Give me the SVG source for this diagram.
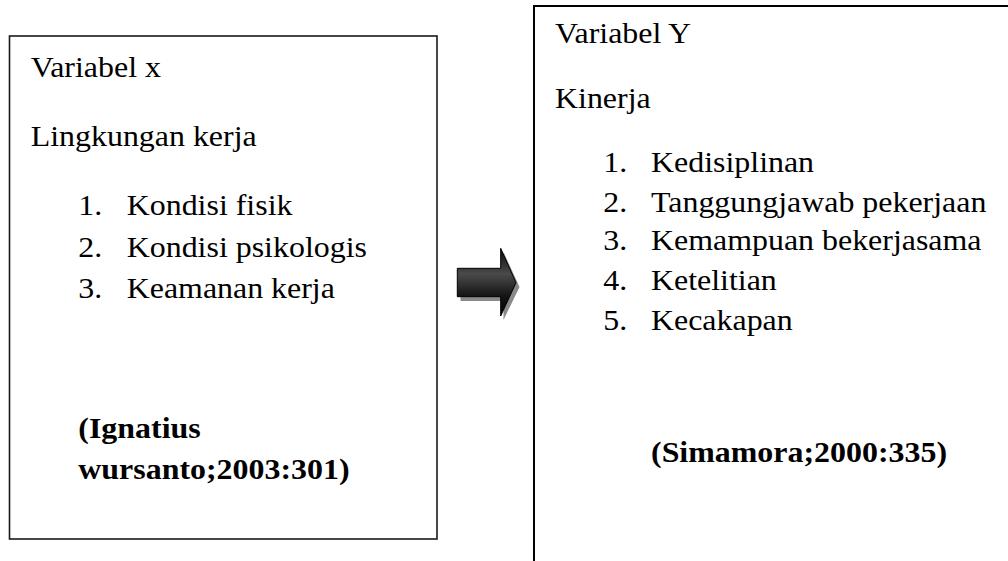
<svg xmlns="http://www.w3.org/2000/svg" width="1008" height="561" viewBox="0 0 1008 561">
  <defs>
    <linearGradient id="arrowGrad" x1="0" y1="0" x2="0" y2="1">
      <stop offset="0" stop-color="#0a0a0a"/>
      <stop offset="0.38" stop-color="#4a4a4a"/>
      <stop offset="0.7" stop-color="#151515"/>
      <stop offset="1" stop-color="#000"/>
    </linearGradient>
  </defs>
  <rect width="1008" height="561" fill="#ffffff"/>

  <g id="node-x">
    <rect x="9.5" y="36" width="427.5" height="503" fill="#fff" stroke="#1a1a1a" stroke-width="1.6"/>
    <text font-family="Liberation Serif, Times New Roman, serif" font-size="28.5" transform="translate(30.7,76.7) scale(1.12,1)">Variabel x</text>
    <text font-family="Liberation Serif, Times New Roman, serif" font-size="28.5" transform="translate(30.7,146) scale(1.12,1)">Lingkungan kerja</text>
    <text font-family="Liberation Serif, Times New Roman, serif" font-size="28.5" transform="translate(78.3,215) scale(1.12,1)">1.</text>
    <text font-family="Liberation Serif, Times New Roman, serif" font-size="28.5" transform="translate(126.7,215) scale(1.12,1)">Kondisi fisik</text>
    <text font-family="Liberation Serif, Times New Roman, serif" font-size="28.5" transform="translate(78.3,256.7) scale(1.12,1)">2.</text>
    <text font-family="Liberation Serif, Times New Roman, serif" font-size="28.5" transform="translate(126.7,256.7) scale(1.12,1)">Kondisi psikologis</text>
    <text font-family="Liberation Serif, Times New Roman, serif" font-size="28.5" transform="translate(78.3,298.3) scale(1.12,1)">3.</text>
    <text font-family="Liberation Serif, Times New Roman, serif" font-size="28.5" transform="translate(126.7,298.3) scale(1.12,1)">Keamanan kerja</text>
    <text font-family="Liberation Serif, Times New Roman, serif" font-size="28.5" font-weight="bold" transform="translate(78.3,438.3) scale(1.12,1)">(Ignatius</text>
    <text font-family="Liberation Serif, Times New Roman, serif" font-size="28.5" font-weight="bold" transform="translate(78.3,479.3) scale(1.12,1)">wursanto;2003:301)</text>
  </g>

  <g id="node-y">
    <rect x="534" y="6" width="520" height="600" fill="#fff" stroke="#000" stroke-width="2"/>
    <text font-family="Liberation Serif, Times New Roman, serif" font-size="28.5" transform="translate(555,43.3) scale(1.12,1)">Variabel Y</text>
    <text font-family="Liberation Serif, Times New Roman, serif" font-size="28.5" transform="translate(555,108.3) scale(1.12,1)">Kinerja</text>
    <text font-family="Liberation Serif, Times New Roman, serif" font-size="28.5" transform="translate(603.3,171.7) scale(1.12,1)">1.</text>
    <text font-family="Liberation Serif, Times New Roman, serif" font-size="28.5" transform="translate(651,171.7) scale(1.12,1)">Kedisiplinan</text>
    <text font-family="Liberation Serif, Times New Roman, serif" font-size="28.5" transform="translate(603.3,211.7) scale(1.12,1)">2.</text>
    <text font-family="Liberation Serif, Times New Roman, serif" font-size="28.5" transform="translate(651,211.7) scale(1.12,1)">Tanggungjawab pekerjaan</text>
    <text font-family="Liberation Serif, Times New Roman, serif" font-size="28.5" transform="translate(603.3,250) scale(1.12,1)">3.</text>
    <text font-family="Liberation Serif, Times New Roman, serif" font-size="28.5" transform="translate(651,250) scale(1.12,1)">Kemampuan bekerjasama</text>
    <text font-family="Liberation Serif, Times New Roman, serif" font-size="28.5" transform="translate(603.3,290) scale(1.12,1)">4.</text>
    <text font-family="Liberation Serif, Times New Roman, serif" font-size="28.5" transform="translate(651,290) scale(1.12,1)">Ketelitian</text>
    <text font-family="Liberation Serif, Times New Roman, serif" font-size="28.5" transform="translate(603.3,330) scale(1.12,1)">5.</text>
    <text font-family="Liberation Serif, Times New Roman, serif" font-size="28.5" transform="translate(651,330) scale(1.12,1)">Kecakapan</text>
    <text font-family="Liberation Serif, Times New Roman, serif" font-size="28.5" font-weight="bold" transform="translate(651,461.7) scale(1.12,1)">(Simamora;2000:335)</text>
  </g>

  <g id="connectors">
    <polygon points="460.5,272 503.5,272 503.5,252 519.5,287 503.5,320 503.5,301 460.5,301" fill="#8a8a8a"/>
    <polygon points="457.3,268.3 500.7,268.3 500.7,248.3 516,282.7 500.7,316 500.7,296.7 457.3,296.7" fill="url(#arrowGrad)" stroke="#000" stroke-width="1"/>
  </g>
</svg>
